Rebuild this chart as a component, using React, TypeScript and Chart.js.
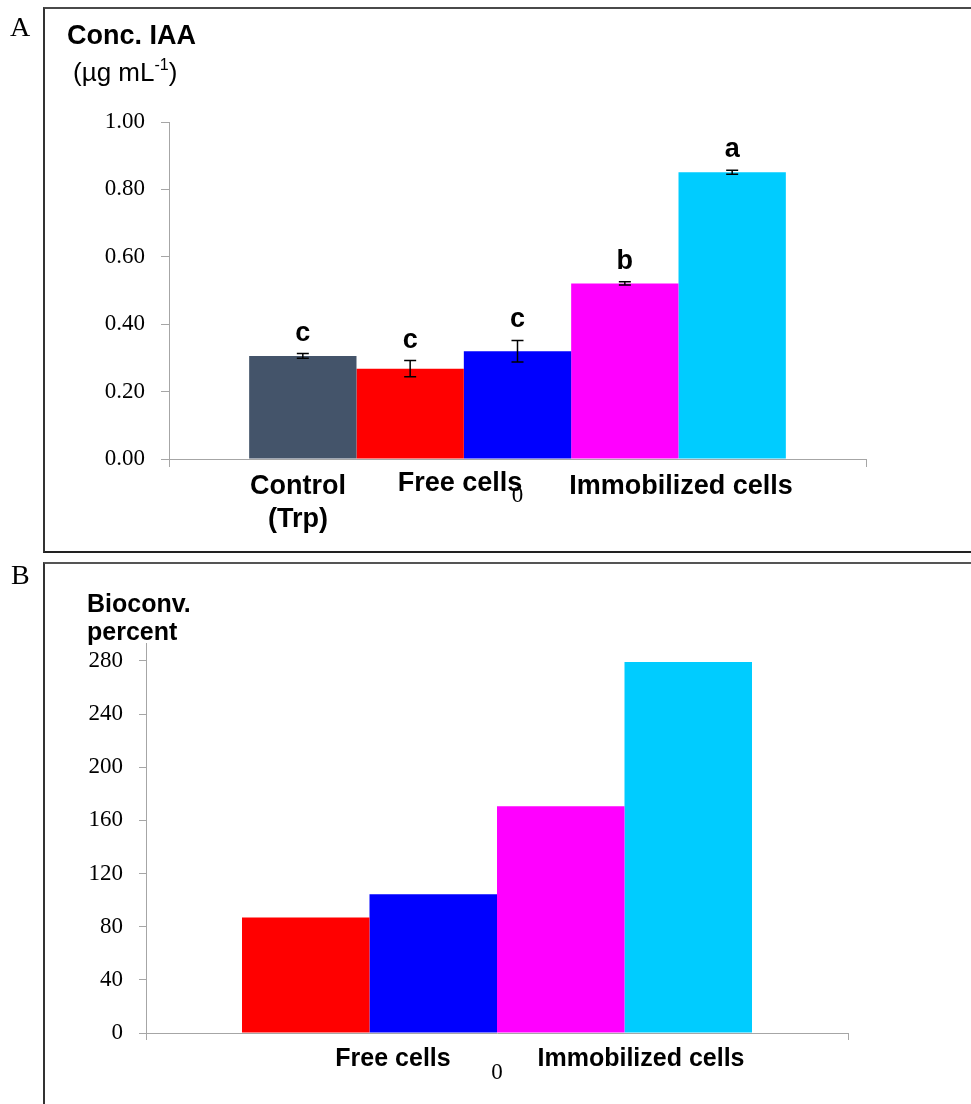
import React, { useEffect, useRef } from "react";
import { Chart, registerables } from "chart.js";

Chart.register(...registerables);

// ---------- Data ----------
const categoryLabels = ["0"];

// Panel A: IAA concentration (µg mL-1)
const seriesNamesA = ["Control (Trp)", "Free cells 1", "Free cells 2", "Immobilized cells 1", "Immobilized cells 2"];
const iaaValues = [0.306, 0.268, 0.32, 0.521, 0.851];
const iaaErrors = [0.007, 0.024, 0.032, 0.005, 0.006];
const iaaLetters = ["c", "c", "c", "b", "a"];
const barColorsA = ["#44546A", "#FF0000", "#0000FF", "#FF00FF", "#00CCFF"];
const iaaAxisMax = 1;
const iaaStep = 0.2;

// Panel B: bioconversion percent
const seriesNamesB = ["Free cells 1", "Free cells 2", "Immobilized cells 1", "Immobilized cells 2"];
const bioconvValues = [87.0, 104.4, 170.7, 279.2];
const barColorsB = ["#FF0000", "#0000FF", "#FF00FF", "#00CCFF"];
const bioconvAxisMax = 293.5;
const bioconvStep = 40;

const groupLabelsA = ["Control", "(Trp)", "Free cells", "Immobilized cells"];
const groupLabelsB = ["Free cells", "Immobilized cells"];

// ---------- Helpers ----------
const SERIF = '"Liberation Serif", "Times New Roman", serif';
const SANS = '"Liberation Sans", Arial, sans-serif';
const AXIS_GRAY = "#a6a6a6";

function annotatePlugin(endTick: number, errors?: number[], letters?: string[]) {
  return {
    id: "annotate",
    afterDatasetsDraw(chart: any) {
      const { ctx, chartArea } = chart;
      const y = chart.scales.y;
      ctx.save();
      // end ticks of the category axis
      ctx.strokeStyle = AXIS_GRAY;
      ctx.lineWidth = 1;
      ctx.beginPath();
      for (const px of [chartArea.left, chartArea.right]) {
        const xx = Math.round(px) + 0.5;
        ctx.moveTo(xx, chartArea.bottom);
        ctx.lineTo(xx, chartArea.bottom + endTick);
      }
      ctx.stroke();
      if (errors && letters) {
        chart.data.datasets.forEach((ds: any, i: number) => {
          const bar = chart.getDatasetMeta(i).data[0];
          const v = ds.data[0];
          const e = errors[i];
          const yTop = y.getPixelForValue(v + e);
          const yBot = y.getPixelForValue(v - e);
          const cap = 6;
          ctx.strokeStyle = "#000";
          ctx.lineWidth = 1.5;
          ctx.beginPath();
          ctx.moveTo(bar.x, yTop);
          ctx.lineTo(bar.x, yBot);
          ctx.moveTo(bar.x - cap, yTop);
          ctx.lineTo(bar.x + cap, yTop);
          ctx.moveTo(bar.x - cap, yBot);
          ctx.lineTo(bar.x + cap, yBot);
          ctx.stroke();
          ctx.fillStyle = "#000";
          ctx.font = `bold 27px ${SANS}`;
          ctx.textAlign = "center";
          ctx.textBaseline = "alphabetic";
          ctx.fillText(letters[i], bar.x, yTop - 13);
        });
      }
      ctx.restore();
    },
  };
}

function Label(props: {
  x: number;
  base: number;
  size: number;
  bold?: boolean;
  serif?: boolean;
  center?: boolean;
  children: React.ReactNode;
}) {
  const { x, base, size, bold, serif, center, children } = props;
  const style: React.CSSProperties = {
    position: "absolute",
    left: x,
    top: base - size * 0.85,
    fontSize: size,
    lineHeight: `${size}px`,
    fontFamily: serif ? SERIF : SANS,
    fontWeight: bold ? 700 : 400,
    whiteSpace: "nowrap",
    color: "#000",
    transform: center ? "translateX(-50%)" : undefined,
  };
  return <div style={style}>{children}</div>;
}

function BarPanel(props: {
  top: number;
  height: number;
  names: string[];
  values: number[];
  colors: string[];
  max: number;
  step: number;
  decimals: number;
  padTop: number;
  padRight: number;
  yWidth: number;
  xHeight: number;
  tickLen: number;
  xPad: number;
  catPct: number;
  errors?: number[];
  letters?: string[];
}) {
  const ref = useRef<HTMLCanvasElement | null>(null);
  useEffect(() => {
    if (!ref.current) return;
    const p = props;
    const chart = new Chart(ref.current, {
      type: "bar",
      data: {
        labels: categoryLabels,
        datasets: p.names.map((n, i) => ({
          label: n,
          data: [p.values[i]],
          backgroundColor: p.colors[i],
          borderWidth: 0,
          barPercentage: 1,
          categoryPercentage: p.catPct,
        })),
      },
      options: {
        responsive: false,
        animation: false,
        layout: { padding: { left: 0, top: p.padTop, right: p.padRight, bottom: 0 } },
        plugins: { legend: { display: false }, tooltip: { enabled: false }, title: { display: false } },
        scales: {
          x: {
            grid: { display: false },
            border: { display: true, color: AXIS_GRAY, width: 1 },
            ticks: { padding: p.xPad, color: "#000", font: { family: SERIF, size: 23 } },
            afterFit: (s: any) => {
              s.height = p.xHeight;
            },
          },
          y: {
            min: 0,
            max: p.max,
            ticks: {
              stepSize: p.step,
              includeBounds: false,
              padding: 16,
              color: "#000",
              font: { family: SERIF, size: 23 },
              callback: (v: any) => Number(v).toFixed(p.decimals),
            },
            grid: { drawOnChartArea: false, drawTicks: true, tickLength: p.tickLen, color: AXIS_GRAY },
            border: { display: true, color: AXIS_GRAY, width: 1 },
            afterFit: (s: any) => {
              s.width = p.yWidth;
            },
          },
        },
      } as any,
      plugins: [annotatePlugin(p.tickLen, p.errors, p.letters)],
    });
    return () => chart.destroy();
  }, []);
  return (
    <canvas
      ref={ref}
      width={971}
      height={props.height}
      style={{ position: "absolute", left: 0, top: props.top, width: 971, height: props.height }}
    />
  );
}

export default function App() {
  useEffect(() => {
    document.documentElement.style.overflow = "hidden";
    document.body.style.overflow = "hidden";
  }, []);
  return (
    <div
      style={{
        position: "absolute",
        left: 0,
        top: 0,
        width: 971,
        height: 1104,
        overflow: "hidden",
        background: "#fff",
      }}
    >
      {/* panel frames */}
      <div
        style={{
          position: "absolute",
          left: 43,
          top: 7,
          width: 1000,
          height: 546,
          boxSizing: "border-box",
          borderTop: "2px solid #4a4a4a",
          borderLeft: "2px solid #333",
          borderBottom: "2px solid #222",
        }}
      />
      <div
        style={{
          position: "absolute",
          left: 43,
          top: 562,
          width: 1000,
          height: 700,
          boxSizing: "border-box",
          borderTop: "2px solid #555",
          borderLeft: "2px solid #333",
        }}
      />

      <BarPanel
        top={0}
        height={552}
        names={seriesNamesA}
        values={iaaValues}
        colors={barColorsA}
        max={iaaAxisMax}
        step={iaaStep}
        decimals={2}
        padTop={122}
        padRight={105}
        yWidth={169}
        xHeight={93}
        tickLen={8}
        xPad={15}
        catPct={0.77}
        errors={iaaErrors}
        letters={iaaLetters}
      />
      <BarPanel
        top={563}
        height={541}
        names={seriesNamesB}
        values={bioconvValues}
        colors={barColorsB}
        max={bioconvAxisMax}
        step={bioconvStep}
        decimals={0}
        padTop={80}
        padRight={123}
        yWidth={146}
        xHeight={71}
        tickLen={7}
        xPad={18}
        catPct={0.7265}
      />

      {/* Panel A texts */}
      <Label x={10} base={37} size={28} serif>
        A
      </Label>
      <Label x={67} base={45} size={27} bold>
        Conc. IAA
      </Label>
      <Label x={73} base={81} size={26}>
        (µg mL<span style={{ fontSize: 16, position: "relative", top: -11 }}>-1</span>)
      </Label>
      <Label x={298} base={495} size={27} bold center>
        {groupLabelsA[0]}
      </Label>
      <Label x={298} base={528} size={27} bold center>
        {groupLabelsA[1]}
      </Label>
      <Label x={460} base={492} size={27} bold center>
        {groupLabelsA[2]}
      </Label>
      <Label x={681} base={495} size={27} bold center>
        {groupLabelsA[3]}
      </Label>

      {/* Panel B texts */}
      <Label x={11} base={585} size={28} serif>
        B
      </Label>
      <Label x={87} base={612} size={25} bold>
        Bioconv.
      </Label>
      <Label x={87} base={640} size={25} bold>
        percent
      </Label>
      <Label x={393} base={1066} size={25} bold center>
        {groupLabelsB[0]}
      </Label>
      <Label x={641} base={1066} size={25} bold center>
        {groupLabelsB[1]}
      </Label>
    </div>
  );
}
